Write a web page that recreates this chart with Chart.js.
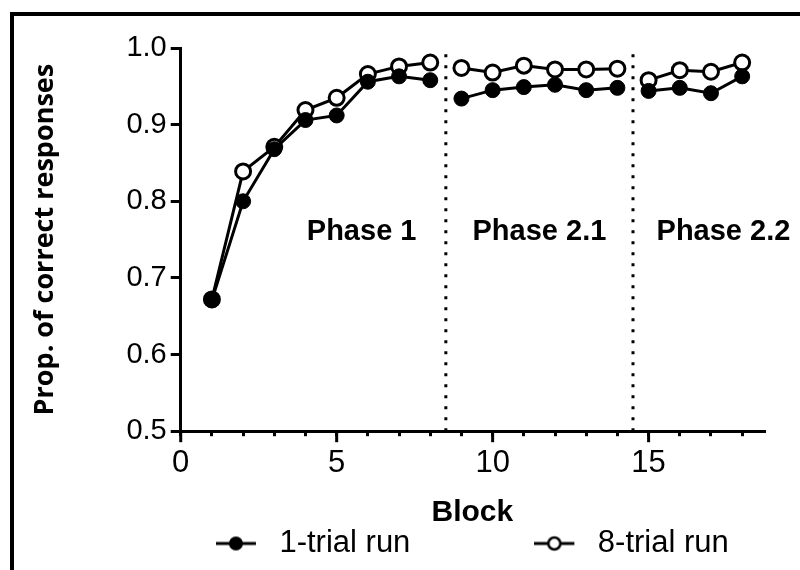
<!DOCTYPE html>
<html>
<head>
    <title>Proportion of correct responses by block</title>
    <script src="https://cdn.jsdelivr.net/npm/chart.js"></script>
    <style>
        html, body {
            margin: 0;
            padding: 0;
            background-color: white;
            overflow: hidden;
        }
        .frame {
            position: absolute;
            left: 10px;
            top: 12px;
            width: 820px;
            height: 600px;
            border-left: 4px solid black;
            border-top: 4px solid black;
        }
        .chart-container {
            position: absolute;
            left: 0;
            top: 0;
            width: 800px;
            height: 570px;
        }
    </style>
</head>
<body>
    <div class="frame"></div>
    <div class="chart-container">
        <canvas id="blockChart"></canvas>
    </div>

    <script>
        // values
        const blocks = [1, 2, 3, 4, 5, 6, 7, 8, 9, 10, 11, 12, 13, 14, 15, 16, 17, 18];
        const oneTrialRun = [0.671, 0.800, 0.868, 0.906, 0.912, 0.956, 0.963, 0.958,
                             0.934, 0.945, 0.949, 0.952, 0.945, 0.948,
                             0.944, 0.948, 0.941, 0.963];
        const eightTrialRun = [0.672, 0.839, 0.871, 0.919, 0.935, 0.966, 0.976, 0.981,
                               0.974, 0.968, 0.977, 0.972, 0.972, 0.973,
                               0.958, 0.971, 0.969, 0.981];
        const seriesNames = ['1-trial run', '8-trial run'];
        const phaseBreaks = [8.5, 14.5];
        const phaseNames = ['Phase 1', 'Phase 2.1', 'Phase 2.2'];
        const xTickLabels = [0, 5, 10, 15];
        const yMin = 0.5, yMax = 1.0;

        const FONT = '"Liberation Sans", Arial, sans-serif';

        // one point per block, with a gap where a phase ends
        function toPoints(values) {
            const pts = [];
            blocks.forEach((b, i) => {
                if (i > 0 && phaseBreaks.some(p => blocks[i - 1] < p && b > p)) {
                    pts.push({x: (blocks[i - 1] + b) / 2, y: null});
                }
                pts.push({x: b, y: values[i]});
            });
            return pts;
        }

        // line + marker swatch, with some blank room on the right before the text
        function legendMarker(filled) {
            const c = document.createElement('canvas');
            c.width = 48;
            c.height = 18;
            const g = c.getContext('2d');
            g.strokeStyle = 'black';
            g.lineWidth = 3;
            g.beginPath();
            g.moveTo(0, 9);
            g.lineTo(40, 9);
            g.stroke();
            g.beginPath();
            g.arc(20, 9, filled ? 7 : 6, 0, Math.PI * 2);
            g.fillStyle = filled ? 'black' : 'white';
            g.fill();
            if (!filled) {
                g.lineWidth = 2.5;
                g.stroke();
            }
            return c;
        }
        const legendMarkers = [legendMarker(true), legendMarker(false)];

        // phase names and the longer ticks at labelled blocks
        const phaseAnnotations = {
            id: 'phaseAnnotations',
            afterDraw(chart, args, opts) {
                const {ctx, scales: {x, y}} = chart;
                ctx.save();
                ctx.fillStyle = 'black';
                ctx.font = 'bold 29px ' + FONT;
                ctx.textAlign = 'center';
                ctx.textBaseline = 'middle';
                phaseNames.forEach((name, i) => {
                    ctx.fillText(name, x.getPixelForValue(opts.labelX[i]), y.getPixelForValue(opts.labelY));
                });
                ctx.strokeStyle = 'black';
                ctx.lineWidth = 3;
                xTickLabels.forEach(v => {
                    const px = x.getPixelForValue(v);
                    ctx.beginPath();
                    ctx.moveTo(px, y.bottom);
                    ctx.lineTo(px, y.bottom + 11);
                    ctx.stroke();
                });
                ctx.restore();
            }
        };

        const dividerSets = phaseBreaks.map(p => ({
            label: 'divider',
            data: [{x: p, y: yMin}, {x: p, y: yMax}],
            borderColor: 'black',
            borderWidth: 3,
            borderDash: [3, 8],
            pointRadius: 0
        }));

        Chart.defaults.color = 'black';
        Chart.defaults.font.family = FONT;

        const ctx = document.getElementById('blockChart').getContext('2d');
        const chart = new Chart(ctx, {
            type: 'line',
            data: {
                datasets: [{
                    label: seriesNames[0],
                    data: toPoints(oneTrialRun),
                    borderColor: 'black',
                    borderWidth: 3,
                    backgroundColor: 'black',
                    pointRadius: 7.5,
                    pointBorderWidth: 1,
                    pointBackgroundColor: 'black',
                    tension: 0
                }, {
                    label: seriesNames[1],
                    data: toPoints(eightTrialRun),
                    borderColor: 'black',
                    borderWidth: 3,
                    backgroundColor: 'white',
                    pointRadius: 7.5,
                    pointBorderWidth: 3,
                    pointBackgroundColor: 'white',
                    tension: 0
                }, ...dividerSets]
            },
            options: {
                responsive: true,
                maintainAspectRatio: false,
                animation: false,
                events: [],
                layout: {
                    padding: {left: 25, right: 36, top: 48, bottom: 1}
                },
                scales: {
                    x: {
                        type: 'linear',
                        min: 0,
                        max: 18.7,
                        grid: {
                            drawOnChartArea: false,
                            color: 'black',
                            lineWidth: 3,
                            tickLength: 5
                        },
                        border: {color: 'black', width: 3},
                        ticks: {
                            stepSize: 1,
                            autoSkip: false,
                            includeBounds: false,
                            maxRotation: 0,
                            padding: 9,
                            font: {size: 31},
                            callback: v => xTickLabels.includes(v) ? String(v) : ''
                        },
                        title: {
                            display: true,
                            text: 'Block',
                            font: {size: 30, weight: 'bold', lineHeight: 1.12},
                            padding: {top: 5, bottom: -2}
                        }
                    },
                    y: {
                        min: yMin,
                        max: yMax,
                        grid: {
                            drawOnChartArea: false,
                            color: 'black',
                            lineWidth: 3,
                            tickLength: 10
                        },
                        border: {color: 'black', width: 3},
                        ticks: {
                            stepSize: 0.1,
                            padding: 4,
                            font: {size: 29},
                            callback: v => v.toFixed(1)
                        },
                        title: {
                            display: true,
                            text: 'Prop. of correct responses',
                            font: {family: '"Open Sans", sans-serif', size: 27, weight: 'bold'},
                            padding: {top: 4, bottom: 61}
                        }
                    }
                },
                plugins: {
                    legend: {
                        position: 'bottom',
                        fullSize: false,
                        labels: {
                            usePointStyle: true,
                            pointStyleWidth: 48,
                            padding: 0,
                            font: {size: 31},
                            generateLabels(chart) {
                                const items = Chart.defaults.plugins.legend.labels.generateLabels(chart)
                                    .filter(it => it.datasetIndex < seriesNames.length);
                                items.forEach((it, i) => {
                                    it.pointStyle = legendMarkers[i];
                                    // trailing em spaces keep the two entries apart
                                    if (i === 0) it.text = it.text + '\u2003\u2003\u2003\u2003';
                                });
                                return items;
                            }
                        }
                    },
                    tooltip: {enabled: false},
                    phaseAnnotations: {
                        labelX: [5.8, 11.5, 17.4],
                        labelY: 0.76
                    }
                }
            },
            plugins: [phaseAnnotations]
        });
    </script>
</body>
</html>
